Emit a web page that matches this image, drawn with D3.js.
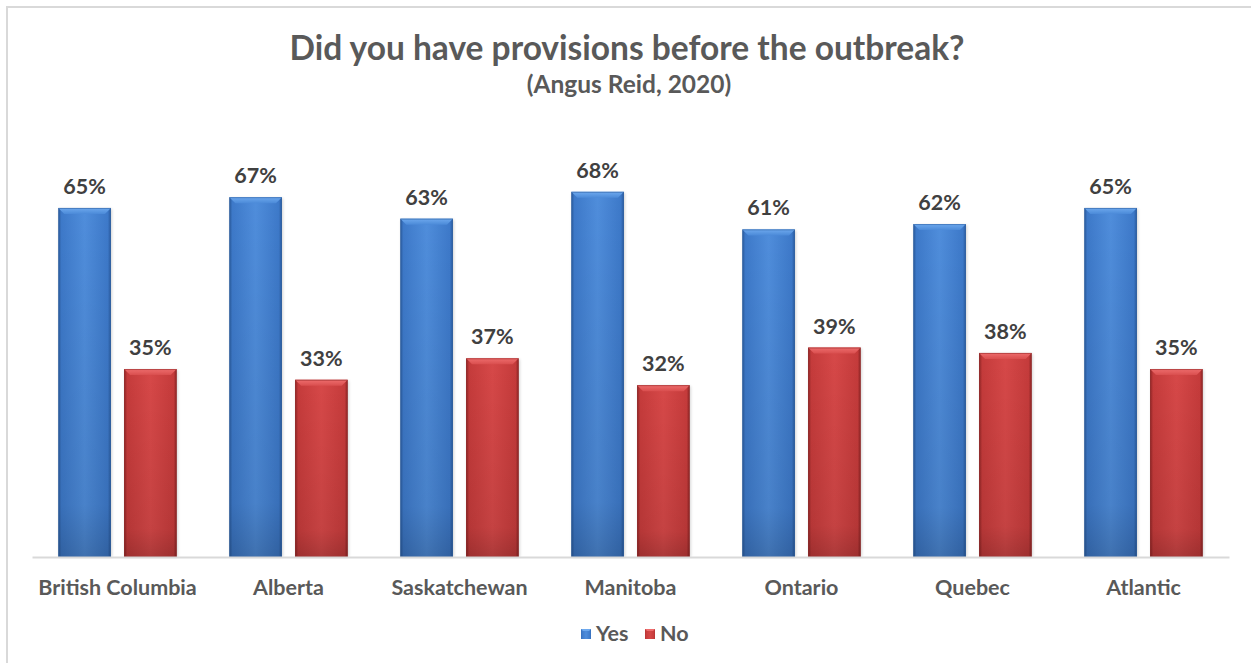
<!DOCTYPE html>
<html>
<head>
<meta charset="utf-8">
<script src="https://cdn.jsdelivr.net/npm/d3@7"></script>
<style>
  html, body { margin: 0; padding: 0; background: #ffffff; }
  svg { display: block; }
  text { font-family: Lato, "Open Sans", sans-serif; font-weight: 700; }
</style>
</head>
<body>
<svg id="chart" width="1251" height="663"></svg>
<script>
// Survey results by region
const regions = ["British Columbia", "Alberta", "Saskatchewan", "Manitoba", "Ontario", "Quebec", "Atlantic"];
const seriesNames = ["Yes", "No"];
const yesValues = [0.65, 0.67, 0.63, 0.68, 0.61, 0.62, 0.65];
const noValues = [0.35, 0.33, 0.37, 0.32, 0.39, 0.38, 0.35];

const titleText = "Did you have provisions before the outbreak?";
const subtitleText = "(Angus Reid, 2020)";

const W = 1251, H = 663;
const svg = d3.select("#chart");

const palette = {
  Yes: { body: "#3d79c9", light: "#4f8ddb", edge: "#2b5c9e", top: "#6ea9ee", topEdge: "#4b8ad8" },
  No:  { body: "#c53b3b", light: "#d64848", edge: "#8f2626", top: "#ee6d6d", topEdge: "#d94e4e" }
};

// Outer frame (left and top edges)
svg.append("path")
  .attr("d", `M7,${H} L7,7 L${W},7`)
  .attr("fill", "none")
  .attr("stroke", "#d9d9d9")
  .attr("stroke-width", 2);

// Gradients for bevelled bars
const defs = svg.append("defs");
seriesNames.forEach(s => {
  const c = palette[s];
  const g = defs.append("linearGradient").attr("id", "side-" + s)
    .attr("x1", "0").attr("x2", "1").attr("y1", "0").attr("y2", "0");
  g.append("stop").attr("offset", "0").attr("stop-color", c.edge);
  g.append("stop").attr("offset", "0.06").attr("stop-color", c.body);
  g.append("stop").attr("offset", "0.5").attr("stop-color", c.light);
  g.append("stop").attr("offset", "0.94").attr("stop-color", c.body);
  g.append("stop").attr("offset", "1").attr("stop-color", c.edge);

  const v = defs.append("linearGradient").attr("id", "shade-" + s)
    .attr("x1", "0").attr("x2", "0").attr("y1", "0").attr("y2", "1");
  v.append("stop").attr("offset", "0").attr("stop-color", "#000").attr("stop-opacity", 0);
  v.append("stop").attr("offset", "0.85").attr("stop-color", "#000").attr("stop-opacity", 0.08);
  v.append("stop").attr("offset", "1").attr("stop-color", "#000").attr("stop-opacity", 0.2);

  const t = defs.append("linearGradient").attr("id", "top-" + s)
    .attr("x1", "0").attr("x2", "0").attr("y1", "0").attr("y2", "1");
  t.append("stop").attr("offset", "0").attr("stop-color", c.top);
  t.append("stop").attr("offset", "1").attr("stop-color", c.topEdge);
});
const blur = defs.append("filter").attr("id", "shadow").attr("x", "-20%").attr("y", "-5%").attr("width", "140%").attr("height", "115%");
blur.append("feGaussianBlur").attr("stdDeviation", 1.5);

// Scales
const x0 = d3.scaleBand().domain(regions).range([32, 1229]).padding(0);
const x1 = d3.scaleBand().domain(seriesNames).range([0, x0.bandwidth()])
  .paddingInner(0.2).paddingOuter(0.4);
const y = d3.scaleLinear().domain([0, 1]).range([557, 20]);

const rows = regions.map((r, i) => ({ region: r, Yes: yesValues[i], No: noValues[i] }));

// Title
svg.append("text")
  .attr("x", 627).attr("y", 60)
  .attr("text-anchor", "middle")
  .attr("font-size", 33.5)
  .attr("fill", "#595959")
  .text(titleText);
svg.append("text")
  .attr("x", 629).attr("y", 93)
  .attr("text-anchor", "middle")
  .attr("font-size", 24.5)
  .attr("fill", "#595959")
  .text(subtitleText);

// Bars
const groups = svg.append("g").selectAll("g")
  .data(rows).join("g")
  .attr("transform", d => `translate(${x0(d.region)},0)`);

const bars = groups.selectAll("g.bar")
  .data(d => seriesNames.map(s => ({ series: s, value: d[s] })))
  .join("g").attr("class", "bar");

const bevel = 6;
bars.each(function(d) {
  const g = d3.select(this);
  const bx = x1(d.series), bw = x1.bandwidth();
  const top = y(d.value), bottom = y(0);
  const c = palette[d.series];
  g.append("rect")
    .attr("x", bx + 1).attr("y", top + 1).attr("width", bw).attr("height", bottom - top - 1)
    .attr("fill", "#000").attr("opacity", 0.18).attr("filter", "url(#shadow)");
  g.append("rect")
    .attr("x", bx).attr("y", top).attr("width", bw).attr("height", bottom - top)
    .attr("fill", `url(#side-${d.series})`);
  g.append("rect")
    .attr("x", bx).attr("y", top).attr("width", bw).attr("height", bottom - top)
    .attr("fill", `url(#shade-${d.series})`);
  g.append("path")
    .attr("d", `M${bx},${top} L${bx + bw},${top} L${bx + bw - bevel},${top + bevel} L${bx + bevel},${top + bevel} Z`)
    .attr("fill", `url(#top-${d.series})`);
  g.append("rect")
    .attr("x", bx + 0.5).attr("y", top + 0.5).attr("width", bw - 1).attr("height", bottom - top - 1)
    .attr("fill", "none").attr("stroke", c.edge).attr("stroke-opacity", 0.55).attr("stroke-width", 1);
  // Value label
  g.append("text")
    .attr("x", bx + bw / 2).attr("y", top - 14)
    .attr("text-anchor", "middle")
    .attr("font-size", 21.5)
    .attr("fill", "#404040")
    .text(d3.format(".0%")(d.value));
});

// Category axis
const xAxis = d3.axisBottom(x0).tickSize(0).tickPadding(0);
const axisG = svg.append("g").attr("transform", `translate(0,${y(0)})`).call(xAxis);
axisG.select(".domain").attr("stroke", "#d9d9d9").attr("stroke-width", 2);
axisG.selectAll(".tick text")
  .attr("y", 38)
  .attr("dy", null)
  .attr("font-size", 21.5)
  .attr("font-family", "Lato, 'Open Sans', sans-serif")
  .attr("font-weight", 700)
  .attr("fill", "#595959");

// Legend
const legendX = { Yes: 581, No: 645 };
const legend = svg.append("g").selectAll("g").data(seriesNames).join("g")
  .attr("transform", s => `translate(${legendX[s]},629)`);
legend.append("rect")
  .attr("width", 10).attr("height", 10)
  .attr("fill", s => `url(#side-${s})`);
legend.append("path")
  .attr("d", "M0,0 L10,0 L8,2 L2,2 Z")
  .attr("fill", s => palette[s].top);
legend.append("text")
  .attr("x", 15).attr("y", 12)
  .attr("font-size", 21.5)
  .attr("fill", "#595959")
  .text(s => s);
</script>
</body>
</html>
